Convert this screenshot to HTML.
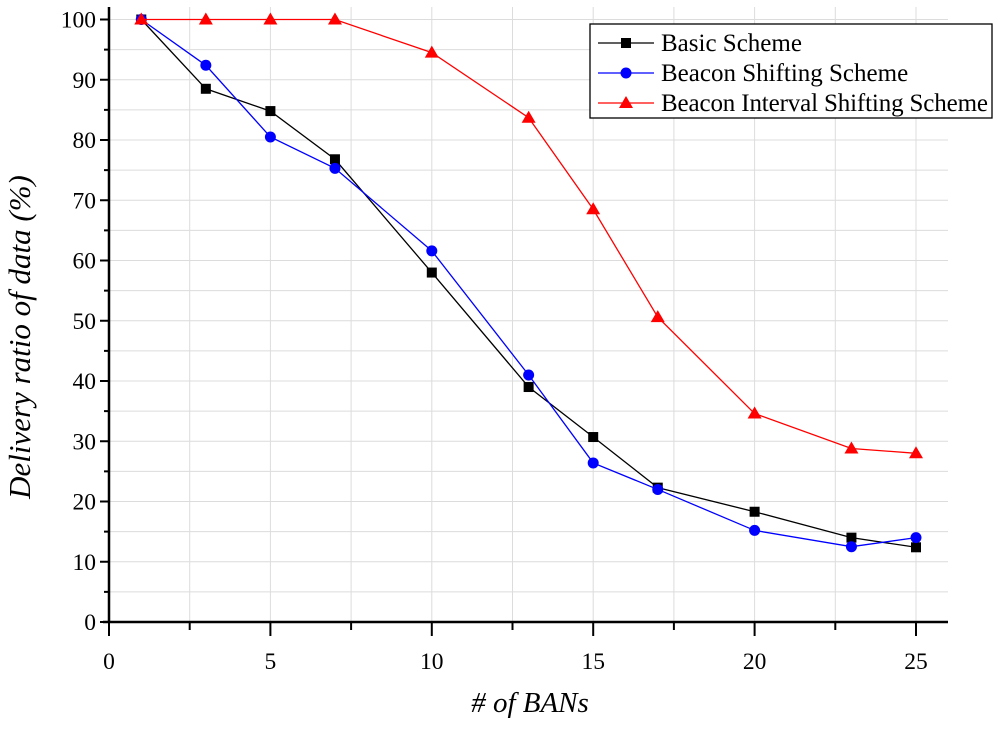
<!DOCTYPE html>
<html><head><meta charset="utf-8"><style>body{margin:0;background:#fff}svg text{font-family:"Liberation Serif",serif;fill:#000}</style></head>
<body>
<svg id="c" width="1000" height="725"></svg>
<script>
const xs=[1,3,5,7,10,13,15,17,20,23,25];
const basic=[100,88.5,84.8,76.8,58,39,30.7,22.3,18.3,14,12.4];
const beacon=[100,92.4,80.5,75.3,61.6,41,26.4,22,15.2,12.5,14];
const bis=[100,100,100,100,94.5,83.7,68.5,50.6,34.6,28.8,28];
const xTicks=[0,5,10,15,20,25];
const yTicks=[0,10,20,30,40,50,60,70,80,90,100];
const NS="http://www.w3.org/2000/svg";
const svg=document.getElementById('c');
const X=v=>109+v*32.28, Y=v=>622-v*6.025;
function mk(t,a,p){const e=document.createElementNS(NS,t);for(const k in a)e.setAttribute(k,a[k]);(p||svg).appendChild(e);return e;}
const grid=mk('g',{});


for(let v=2.5;v<=25.01;v+=2.5)mk('line',{x1:X(v),x2:X(v),y1:7,y2:622,stroke:'#dcdcdc','stroke-width':1},grid);
for(let v=5;v<=100;v+=5)mk('line',{x1:109,x2:948,y1:Y(v),y2:Y(v),stroke:'#dcdcdc','stroke-width':1},grid);
const ax=mk('g',{});


mk('line',{x1:109,x2:109,y1:7,y2:623,stroke:'#000','stroke-width':2.5},ax);
mk('line',{x1:103,x2:948,y1:622,y2:622,stroke:'#000','stroke-width':2.5},ax);
for(let v=0;v<=25;v+=2.5)mk('line',{x1:X(v),x2:X(v),y1:622,y2:v%5==0?636:630,stroke:'#000','stroke-width':2},ax);
for(let v=0;v<=100;v+=5)mk('line',{x1:v%10==0?100:104,x2:109,y1:Y(v),y2:Y(v),stroke:'#000','stroke-width':2},ax);
xTicks.forEach(v=>{const t=mk('text',{x:X(v),y:669,'text-anchor':'middle','font-size':23.5},ax);t.textContent=v;});
yTicks.forEach(v=>{const t=mk('text',{x:96,y:Y(v)+8,'text-anchor':'end','font-size':23.5},ax);t.textContent=v;});
const xt=mk('text',{x:530,y:712,'text-anchor':'middle','font-size':29,'font-style':'italic'});
xt.textContent='# of BANs';


const yt=mk('text',{x:0,y:0,'text-anchor':'middle','font-size':31,'font-style':'italic',transform:'translate(30,337) rotate(-90)'});
yt.textContent='Delivery ratio of data (%)';


function marker(g,shape,x,y,col){
 if(shape=='sq')mk('rect',{x:x-5,y:y-5,width:10,height:10,fill:col},g);
 else if(shape=='ci')mk('circle',{cx:x,cy:y,r:5.5,fill:col},g);
 else mk('polygon',{points:`${x},${y-7} ${x+7},${y+5} ${x-7},${y+5}`,fill:col},g);
}
function series(vals,col,shape,name){
 const g=mk('g',{});
 
 
 mk('polyline',{points:vals.map((v,i)=>X(xs[i])+','+Y(v)).join(' '),fill:'none',stroke:col,'stroke-width':1.3},g);
 vals.forEach((v,i)=>marker(g,shape,X(xs[i]),Y(v),col));
}
series(basic,'#000','sq','series-basic-scheme');
series(beacon,'#0000ff','ci','series-beacon-shifting');
series(bis,'#ff0000','tr','series-beacon-interval-shifting');
const lg=mk('g',{});


mk('rect',{x:590,y:24,width:402,height:94,fill:'#fff',stroke:'#000','stroke-width':1.3},lg);
[['Basic Scheme','#000','sq'],['Beacon Shifting Scheme','#0000ff','ci'],['Beacon Interval Shifting Scheme','#ff0000','tr']].forEach((e,i)=>{
 const y=43+i*30;
 const le=mk('g',{},lg);
 
 
 mk('line',{x1:598,x2:654,y1:y,y2:y,stroke:e[1],'stroke-width':1.3},le);
 marker(le,e[2],626,y,e[1]);
 const t=mk('text',{x:661,y:y+8,'font-size':25,textLength:e[0].length>25?327:null},le);
 if(!t.getAttribute('textLength')||t.getAttribute('textLength')==='null')t.removeAttribute('textLength');
 t.textContent=e[0];
});
</script>
</body></html>
